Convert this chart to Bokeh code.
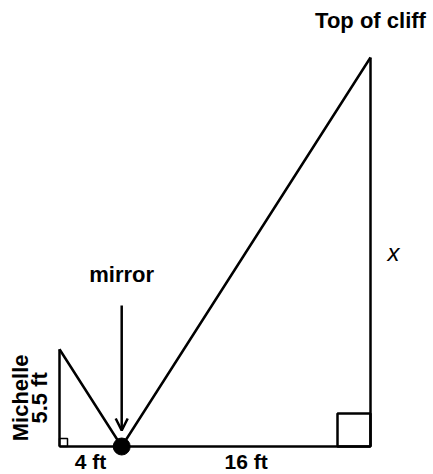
import math
from bokeh.plotting import figure
from bokeh.models import Arrow, OpenHead
from bokeh.core.properties import value
from bokeh.embed import file_html
from bokeh.resources import INLINE

# ---- data (feet) ----
michelle_height = 5.5
mirror_dist = 4
cliff_dist = 16
cliff_height = 22  # (unknown x)
label_texts = ["Top of cliff", "x", "mirror", "Michelle", "5.5 ft", "4 ft", "16 ft"]

mirror_x = mirror_dist
cliff_x = mirror_dist + cliff_dist

# ---- layout (pixels) ----
W, H = 433, 474
sx = 15.55  # px per ft horizontally
sy = 17.68  # px per ft vertically
x0 = -59 / sx
y_top = 446 / sy

p = figure(width=W, height=H, output_backend="svg", toolbar_location=None,
           x_range=(x0, x0 + W / sx), y_range=(y_top - H / sy, y_top),
           min_border=0, outline_line_color=None, title=None)
p.axis.visible = False
p.grid.visible = False
p.background_fill_color = "white"
p.border_fill_color = "white"

lw = 2.5
col = "black"
# ground
p.line([0, cliff_x], [0, 0], line_width=lw, line_color=col)
# Michelle
p.line([0, 0], [0, michelle_height], line_width=lw, line_color=col)
# cliff
p.line([cliff_x, cliff_x], [0, cliff_height], line_width=lw, line_color=col)
# light path
p.line([0, mirror_x, cliff_x], [michelle_height, 0, cliff_height],
       line_width=lw, line_color=col)

# right-angle squares
big = 33
p.rect(x=[cliff_x - big / sx / 2], y=[big / sy / 2], width=big / sx, height=big / sy,
       fill_color=None, line_color=col, line_width=lw)
small = 8
p.rect(x=[small / sx / 2], y=[small / sy / 2], width=small / sx, height=small / sy,
       fill_color=None, line_color=col, line_width=1.5)

# mirror dot
p.scatter([mirror_x], [0], size=17, color=col)

# arrow to mirror
p.add_layout(Arrow(end=OpenHead(size=12, line_width=lw, line_color=col),
                   x_start=mirror_x, y_start=141 / sy,
                   x_end=mirror_x, y_end=16 / sy,
                   line_width=lw, line_color=col))

font = value("Liberation Sans")
def label(txt, x, y, dx=0, dy=0, angle=0, style="bold", size="22px"):
    p.text(x=[x], y=[y], text=[txt], x_offset=dx, y_offset=dy, angle=angle,
           text_font=font, text_font_style=style, text_font_size=size,
           text_align="center", text_baseline="middle", text_color=col)

label(label_texts[0], cliff_x, cliff_height, dy=-37)
label(label_texts[1], cliff_x, cliff_height / 2, dx=23, style="italic", size="24px")
label(label_texts[2], mirror_x, 0, dy=-172)
label(label_texts[3], 0, michelle_height / 2, dx=-39, angle=math.pi / 2)
label(label_texts[4], 0, michelle_height / 2, dx=-20, angle=math.pi / 2)
label(label_texts[5], mirror_dist / 2, 0, dy=15, size="21px")
label(label_texts[6], mirror_x + cliff_dist / 2, 0, dy=15, size="21px")

open("out.html", "w").write(file_html(p, INLINE))
